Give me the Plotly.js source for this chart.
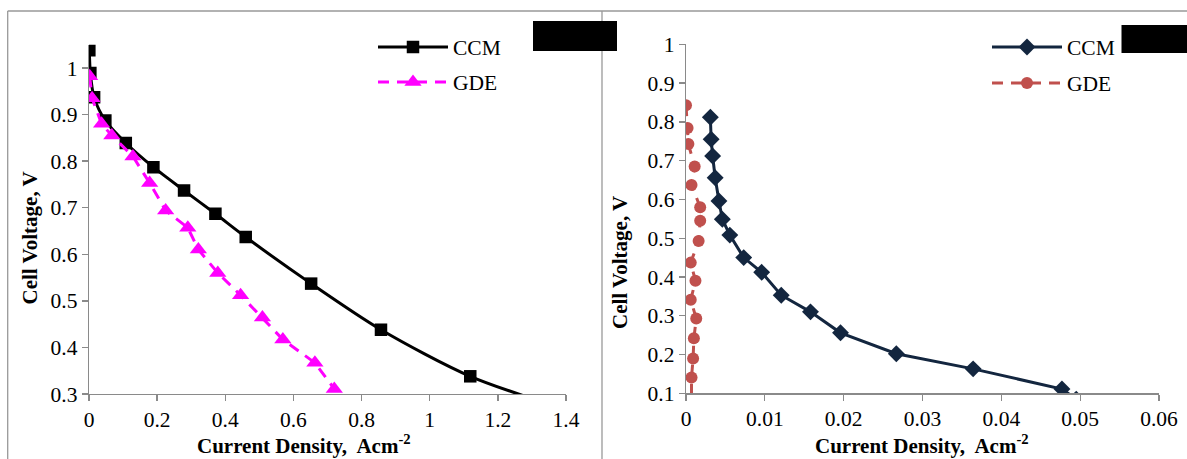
<!DOCTYPE html>
<html>
<head>
<meta charset="utf-8">
<script src="https://cdn.plot.ly/plotly-3.0.1.min.js"></script>
<style>
html, body { margin: 0; padding: 0; background: #ffffff; }
#chart { width: 1187px; height: 459px; }
</style>
</head>
<body>
<div id="chart"></div>
<script>
// ---- Left panel: CCM vs GDE (current density A/cm^2, cell voltage V) ----
const leftCcmX = [0.001, 0.004, 0.015, 0.048, 0.108, 0.189, 0.279, 0.371, 0.460, 0.652, 0.857, 1.119, 1.42];
const leftCcmY = [1.038, 0.989, 0.937, 0.887, 0.839, 0.787, 0.737, 0.687, 0.637, 0.537, 0.438, 0.338, 0.262];
const leftGdeX = [0.002, 0.009, 0.037, 0.067, 0.129, 0.178, 0.225, 0.290, 0.321, 0.378, 0.445, 0.509, 0.569, 0.663, 0.720];
const leftGdeY = [0.982, 0.935, 0.880, 0.855, 0.810, 0.753, 0.694, 0.657, 0.610, 0.560, 0.512, 0.464, 0.417, 0.367, 0.311];

// ---- Right panel ----
const rightCcmX = [0.00309, 0.00319, 0.00338, 0.00370, 0.00418, 0.00461, 0.00556, 0.00732, 0.00960, 0.01208, 0.01579, 0.01960, 0.02668, 0.03642, 0.04769, 0.0495];
const rightCcmY = [0.812, 0.755, 0.712, 0.656, 0.596, 0.549, 0.508, 0.450, 0.412, 0.353, 0.310, 0.256, 0.202, 0.163, 0.111, 0.085];
const rightGdeX = [0.0000, 0.0002, 0.0003, 0.0011, 0.0007, 0.0018, 0.0018, 0.0016, 0.0006, 0.0012, 0.0006, 0.0013, 0.0010, 0.0009, 0.0007, 0.0007];
const rightGdeY = [0.843, 0.784, 0.743, 0.685, 0.637, 0.580, 0.545, 0.493, 0.437, 0.390, 0.341, 0.293, 0.242, 0.190, 0.141, 0.085];

const seriesNames = ['CCM', 'GDE'];
const leftXTicks = [0, 0.2, 0.4, 0.6, 0.8, 1, 1.2, 1.4];
const leftYTicks = [0.3, 0.4, 0.5, 0.6, 0.7, 0.8, 0.9, 1];
const rightXTicks = [0, 0.01, 0.02, 0.03, 0.04, 0.05, 0.06];
const rightYTicks = [0.1, 0.2, 0.3, 0.4, 0.5, 0.6, 0.7, 0.8, 0.9, 1];
const xTitle = 'Current Density,&nbsp; Acm<sup>-2</sup>';
const yTitle = 'Cell Voltage, V';

const W = 1187, H = 459;
const FONT = '"Liberation Serif", "Times New Roman", serif';
const AXC = '#8a8a8a';
const px = v => v / W;
const py = v => 1 - v / H;

const traces = [
  { x: leftCcmX, y: leftCcmY, name: seriesNames[0], type: 'scatter', mode: 'lines+markers',
    xaxis: 'x', yaxis: 'y', legend: 'legend',
    line: { color: '#000000', width: 3, shape: 'spline', smoothing: 0.8 },
    marker: { symbol: 'square', size: 12.5, color: '#000000' } },
  { x: leftGdeX, y: leftGdeY, name: seriesNames[1], type: 'scatter', mode: 'lines+markers',
    xaxis: 'x', yaxis: 'y', legend: 'legend2',
    line: { color: '#ff00ff', width: 3, dash: '11px,8px' },
    marker: { symbol: 'triangle-up', size: 15, color: '#ff00ff' } },
  { x: rightCcmX, y: rightCcmY, name: seriesNames[0], type: 'scatter', mode: 'lines+markers',
    xaxis: 'x2', yaxis: 'y2', legend: 'legend3',
    line: { color: '#13263f', width: 3 },
    marker: { symbol: 'diamond', size: 13, color: '#13263f' } },
  { x: rightGdeX, y: rightGdeY, name: seriesNames[1], type: 'scatter', mode: 'lines+markers',
    xaxis: 'x2', yaxis: 'y2', legend: 'legend4',
    line: { color: '#c0504d', width: 3, dash: '11px,8px' },
    marker: { symbol: 'circle', size: 12, color: '#c0504d' } }
];

function axisBase(extra) {
  return Object.assign({
    showgrid: false, zeroline: false, showline: true, linecolor: AXC, linewidth: 1.3,
    ticks: 'outside', ticklen: 6, tickcolor: AXC, tickwidth: 1.3,
    tickfont: { family: FONT, size: 21.5, color: '#000000' }, fixedrange: true
  }, extra);
}

const legendBase = (x, y) => ({
  x: px(x), y: py(y), xanchor: 'left', yanchor: 'middle',
  bgcolor: 'rgba(0,0,0,0)', borderwidth: 0, itemwidth: 70,
  font: { family: FONT, size: 21.5, color: '#000000' }
});

const titleFont = { family: FONT, size: 21, color: '#000000', weight: 'bold' };

const layout = {
  width: W, height: H,
  margin: { l: 0, r: 0, t: 0, b: 0 },
  paper_bgcolor: '#ffffff', plot_bgcolor: 'rgba(0,0,0,0)',
  font: { family: FONT, size: 21, color: '#000000' },
  xaxis: axisBase({ domain: [px(89), px(566)], range: [0, 1.4], tickvals: leftXTicks, ticktext: leftXTicks.map(String), anchor: 'y' }),
  yaxis: axisBase({ domain: [py(394), py(44.7)], range: [0.3, 1.05], tickvals: leftYTicks, ticktext: leftYTicks.map(String), anchor: 'x' }),
  xaxis2: axisBase({ domain: [px(686), px(1159)], range: [0, 0.06], tickvals: rightXTicks, ticktext: rightXTicks.map(String), anchor: 'y2' }),
  yaxis2: axisBase({ domain: [py(393.3), py(44.3)], range: [0.1, 1], tickvals: rightYTicks, ticktext: rightYTicks.map(String), anchor: 'x2' }),
  showlegend: true,
  legend: legendBase(373, 47),
  legend2: legendBase(373, 82),
  legend3: legendBase(987, 47),
  legend4: legendBase(987, 83),
  annotations: [
    { text: xTitle, x: px(304.5), y: py(444), xref: 'paper', yref: 'paper', showarrow: false,
      xanchor: 'center', yanchor: 'middle', font: titleFont },
    { text: xTitle, x: px(922), y: py(444), xref: 'paper', yref: 'paper', showarrow: false,
      xanchor: 'center', yanchor: 'middle', font: titleFont },
    { text: yTitle, x: px(29), y: py(238.5), xref: 'paper', yref: 'paper', showarrow: false, textangle: -90,
      xanchor: 'center', yanchor: 'middle', font: titleFont },
    { text: yTitle, x: px(620), y: py(262), xref: 'paper', yref: 'paper', showarrow: false, textangle: -90,
      xanchor: 'center', yanchor: 'middle', font: titleFont }
  ],
  shapes: [
    // outer frame (top, left) and panel divider
    { type: 'line', xref: 'paper', yref: 'paper', x0: px(7.7), x1: 1, y0: py(11), y1: py(11), line: { color: '#999999', width: 1.3 } },
    { type: 'line', xref: 'paper', yref: 'paper', x0: px(7.7), x1: px(7.7), y0: py(11), y1: 0, line: { color: '#999999', width: 1.3 } },
    { type: 'line', xref: 'paper', yref: 'paper', x0: px(602), x1: px(602), y0: py(11), y1: 0, line: { color: '#999999', width: 1.3 } },
    // redaction boxes
    { type: 'rect', xref: 'paper', yref: 'paper', x0: px(533), x1: px(617), y0: py(51), y1: py(21), fillcolor: '#000000', line: { width: 0 }, layer: 'above' },
    { type: 'rect', xref: 'paper', yref: 'paper', x0: px(1121.5), x1: 1, y0: py(53), y1: py(25), fillcolor: '#000000', line: { width: 0 }, layer: 'above' }
  ]
};

Plotly.newPlot('chart', traces, layout, { displayModeBar: false, staticPlot: true });
</script>
</body>
</html>
